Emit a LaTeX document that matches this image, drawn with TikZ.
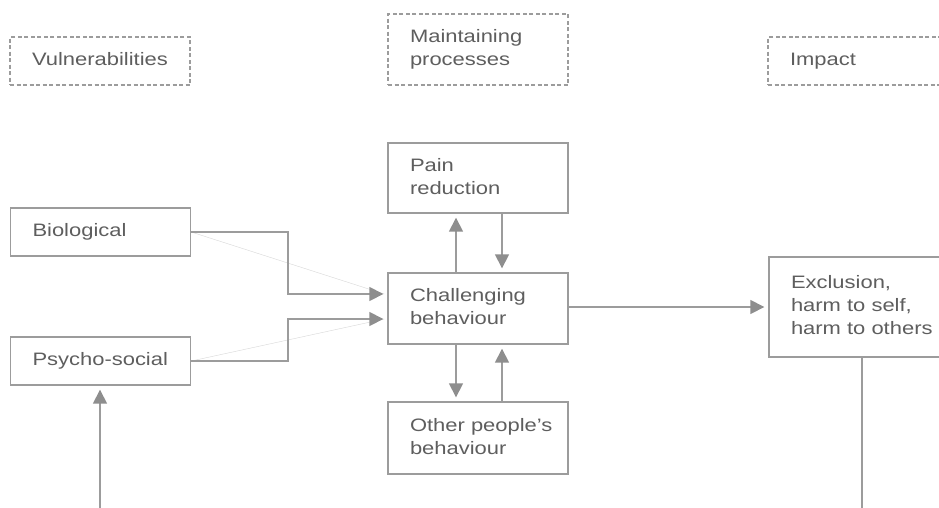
\documentclass[tikz,border=0pt]{standalone}
\usepackage{fontspec}
\setmainfont{Liberation Sans}[FakeStretch=1.22]
\usetikzlibrary{arrows.meta}
\definecolor{ln}{HTML}{9C9C9C}
\definecolor{hd}{HTML}{8E8E8E}
\definecolor{tx}{HTML}{5E5E5E}
\definecolor{fnt}{HTML}{D8D8D8}
\newcommand{\bxt}[1]{\makebox[136pt][l]{\begin{tabular}{@{}l@{}}#1\end{tabular}}}
\tikzset{
  base/.style={rectangle, text=tx, inner xsep=22pt, inner ysep=0pt,
    font=\fontsize{18}{23}\selectfont},
  hdrbox/.style={base, draw=ln, line width=1.4pt, dash pattern=on 4pt off 2.5pt},
  solidbox/.style={base, draw=ln, line width=1.4pt},
  conn/.style={draw=ln, line width=1.6pt},
  arr/.style={conn, -{Triangle[length=14pt,width=14pt,color=hd]}, shorten >=4pt},
  faint/.style={draw=fnt, line width=0.4pt}
}
\begin{document}
\begin{tikzpicture}[x=1pt,y=-1pt]
\clip (0,0) rectangle (939,507);
\fill[white] (0,0) rectangle (939,507);
% header boxes
\node[hdrbox, minimum height=48pt] (vul) at (100,61) {\bxt{Vulnerabilities}};
\node[hdrbox, minimum height=71pt] (mp) at (478,49.5) {\bxt{Maintaining\\processes}};
\node[hdrbox, minimum height=48pt] (imp) at (858,61) {\bxt{Impact}};
% main boxes
\node[solidbox, minimum height=48pt] (bio) at (100.5,232) {\bxt{Biological}};
\node[solidbox, minimum height=48pt] (psy) at (100.5,361) {\bxt{Psycho-social}};
\node[solidbox, minimum height=70pt] (pain) at (478,178) {\bxt{Pain\\reduction}};
\node[solidbox, minimum height=71pt] (chal) at (478,308.5) {\bxt{Challenging\\behaviour}};
\node[solidbox, minimum height=72pt] (oth) at (478,438) {\bxt{Other people’s\\behaviour}};
\node[solidbox, minimum height=100pt] (exc) at (859,307) {\bxt{Exclusion,\\harm to self,\\harm to others}};
\coordinate (bstart) at (100,512);
\coordinate (eend) at (862,512);
% faint diagonals
\draw[faint] (bio.east) -- ([yshift=14.5pt,xshift=-3pt]chal.west);
\draw[faint] (psy.east) -- ([yshift=-10.5pt,xshift=-3pt]chal.west);
% connectors
\draw[arr] (bio.east) -- ++(97,0) |- ([yshift=14.5pt]chal.west);
\draw[arr] (psy.east) -- ++(97,0) |- ([yshift=-10.5pt]chal.west);
\draw[arr] ([xshift=-22pt]chal.north) -- ([xshift=-22pt]pain.south);
\draw[arr] ([xshift=24pt]pain.south) -- ([xshift=24pt]chal.north);
\draw[arr] ([xshift=-22pt]chal.south) -- ([xshift=-22pt]oth.north);
\draw[arr] ([xshift=24pt]oth.north) -- ([xshift=24pt]chal.south);
\draw[arr] (chal.east |- exc.west) -- (exc.west);
\draw[conn] (exc.south -| eend) -- (eend);
\draw[arr] (bstart) -- (psy.south -| bstart);
\end{tikzpicture}
\end{document}
